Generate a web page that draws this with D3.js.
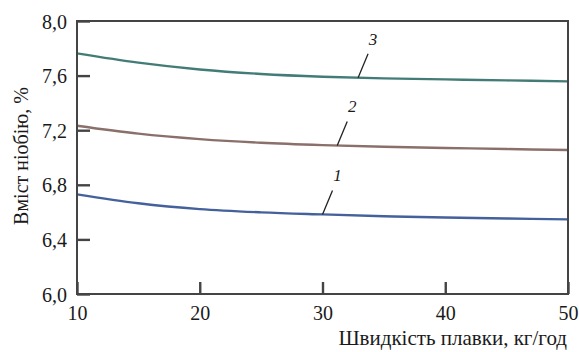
<!DOCTYPE html>
<html>
<head>
<meta charset="utf-8">
<script src="https://cdn.jsdelivr.net/npm/d3@7"></script>
<style>
  body { margin: 0; background: #fff; }
</style>
</head>
<body>
<div id="chart"></div>
<script>
// Data
const speeds = [10, 15, 20, 25, 30, 35, 40, 45, 50];
const curve1 = [6.73, 6.665, 6.622, 6.598, 6.583, 6.57, 6.56, 6.553, 6.547];
const curve2 = [7.233, 7.175, 7.135, 7.108, 7.091, 7.079, 7.07, 7.062, 7.055];
const curve3 = [7.763, 7.695, 7.645, 7.612, 7.592, 7.58, 7.572, 7.565, 7.558];
const seriesNames = ['1', '2', '3'];
const seriesColors = ['#44619c', '#8b6f6a', '#437c77'];
// where each leader line touches its curve (x value)
const labelAt = [30.0, 31.2, 32.9];

const xTicks = [10, 20, 30, 40, 50];
const yTicks = [6.0, 6.4, 6.8, 7.2, 7.6, 8.0];
const xTitle = 'Швидкість плавки, кг/год';
const yTitle = 'Вміст ніобію, %';

const FONT = 'Liberation Serif';
const width = 579, height = 352;
const margin = { top: 21, right: 11, bottom: 58, left: 77 };
const w = width - margin.left - margin.right;
const h = height - margin.top - margin.bottom;

const svg = d3.select('#chart').append('svg')
    .attr('width', width)
    .attr('height', height)
    .attr('font-family', FONT);

const g = svg.append('g')
    .attr('transform', `translate(${margin.left},${margin.top})`);

const x = d3.scaleLinear().domain([10, 50]).range([0, w]);
const y = d3.scaleLinear().domain([6, 8]).range([h, 0]);

const fmt = d => d3.format('.1f')(d).replace('.', ',');

// curves
const allSeries = [curve1, curve2, curve3];
const line = d3.line()
    .x((d, i) => x(speeds[i]))
    .y(d => y(d))
    .curve(d3.curveCatmullRom);

allSeries.forEach((s, k) => {
    g.append('path')
        .datum(s)
        .attr('d', line)
        .attr('fill', 'none')
        .attr('stroke', seriesColors[k])
        .attr('stroke-width', 2.4);
});

// frame
g.append('rect')
    .attr('width', w)
    .attr('height', h)
    .attr('fill', 'none')
    .attr('stroke', '#444')
    .attr('stroke-width', 2);

// axes with inward ticks
const xAxis = g.append('g')
    .attr('transform', `translate(0,${h})`)
    .call(d3.axisBottom(x).tickValues(xTicks).tickSizeInner(-12).tickSizeOuter(0));
const yAxis = g.append('g')
    .call(d3.axisLeft(y).tickValues(yTicks).tickFormat(fmt).tickSizeInner(-13).tickSizeOuter(0));

[xAxis, yAxis].forEach(a => {
    a.attr('font-family', FONT).attr('font-size', 20);
    a.select('.domain').remove();
    a.selectAll('.tick line').attr('stroke', '#444').attr('stroke-width', 2.4);
    a.selectAll('.tick text').attr('fill', '#1a1a1a');
});
yAxis.selectAll('.tick text').attr('x', -10).attr('dy', '0.35em');
xAxis.selectAll('.tick text').attr('y', 26).attr('dy', null);

// curve labels with leader lines
const interp = (s, xv) => {
    const i = d3.bisectRight(speeds, xv) - 1;
    const j = Math.min(i + 1, speeds.length - 1);
    const t = j === i ? 0 : (xv - speeds[i]) / (speeds[j] - speeds[i]);
    return s[i] + (s[j] - s[i]) * t;
};

allSeries.forEach((s, k) => {
    const px = x(labelAt[k]);
    const py = y(interp(s, labelAt[k]));
    g.append('line')
        .attr('x1', px).attr('y1', py)
        .attr('x2', px + 10).attr('y2', py - 24)
        .attr('stroke', '#222')
        .attr('stroke-width', 1.3);
    g.append('text')
        .attr('x', px + 15)
        .attr('y', py - 33)
        .attr('text-anchor', 'middle')
        .attr('font-size', 17)
        .attr('font-style', 'italic')
        .attr('fill', '#1a1a1a')
        .text(seriesNames[k]);
});

// axis titles
svg.append('text')
    .attr('x', 567)
    .attr('y', 345)
    .attr('text-anchor', 'end')
    .attr('font-size', 21)
    .attr('fill', '#1a1a1a')
    .text(xTitle);

svg.append('text')
    .attr('transform', `translate(28,156) rotate(-90)`)
    .attr('text-anchor', 'middle')
    .attr('font-size', 20)
    .attr('fill', '#1a1a1a')
    .text(yTitle);
</script>
</body>
</html>
